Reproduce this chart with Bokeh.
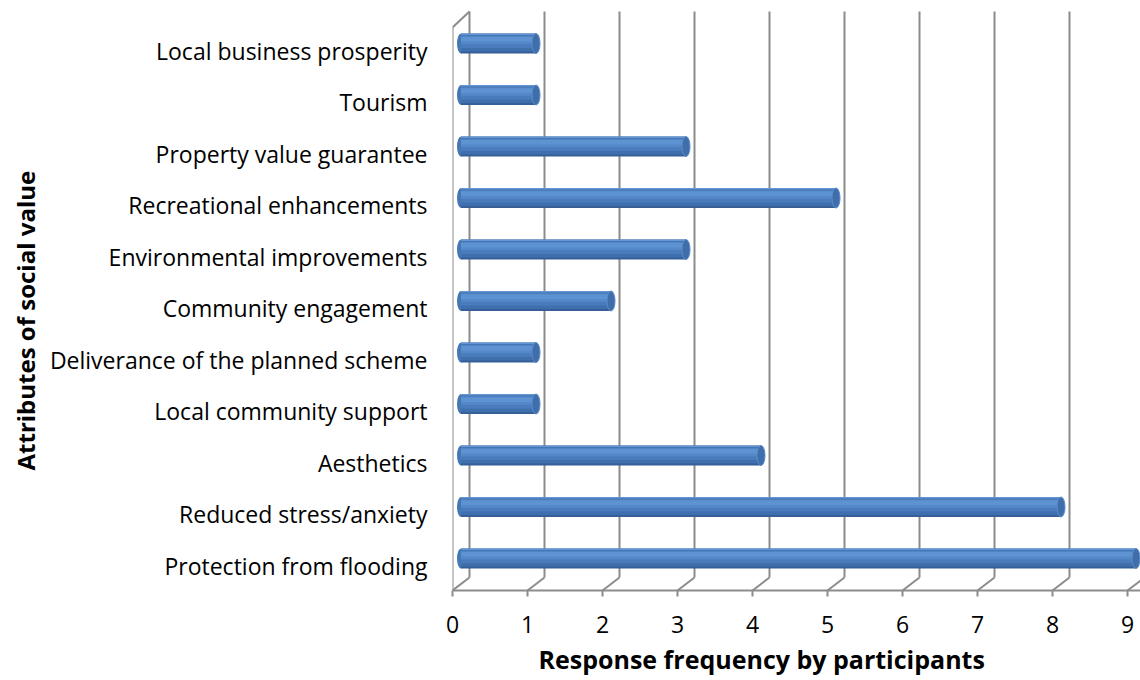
from bokeh.plotting import figure
from bokeh.models import Range1d, FixedTicker, Title
from bokeh.embed import file_html
from bokeh.resources import INLINE

# ---- data (top to bottom as shown) ----
categories = [
    "Local business prosperity",
    "Tourism",
    "Property value guarantee",
    "Recreational enhancements",
    "Environmental improvements",
    "Community engagement",
    "Deliverance of the planned scheme",
    "Local community support",
    "Aesthetics",
    "Reduced stress/anxiety",
    "Protection from flooding",
]
values = [1, 1, 3, 5, 3, 2, 1, 1, 4, 8, 9]
x_ticks = [0, 1, 2, 3, 4, 5, 6, 7, 8, 9]
x_title = "Response frequency by participants"
y_title = "Attributes of social value"

# bottom-to-top order for numeric positions
cats_bt = categories[::-1]
vals_bt = values[::-1]
ypos = list(range(len(cats_bt)))

FONT = "Open Sans"
GRID = "#8c8c8c"

# geometry (pixel -> data scale); y=0 is the front-plane position of the lowest category
PX_X = 75.0
PX_Y = 51.5
Y0 = 565.0
DX_BACK = 17 / PX_X
Y_FLOOR_FRONT = (Y0 - 590) / PX_Y
Y_FLOOR_BACK = (Y0 - 577) / PX_Y
Y_TOP_FRONT = (Y0 - 27) / PX_Y
Y_TOP_BACK = (Y0 - 11) / PX_Y
X_MAX = 688 / PX_X
Y_MIN = Y_FLOOR_FRONT
Y_MAX = (Y0 - 5) / PX_Y
BAR_DX = 8.5 / PX_X   # half depth shift of bars
BAR_DY = 7 / PX_Y

p = figure(width=1140, height=680, output_backend="svg", toolbar_location=None,
           x_range=Range1d(0, X_MAX), y_range=Range1d(Y_MIN, Y_MAX),
           min_border_left=452, min_border_right=0, min_border_top=5,
           min_border_bottom=90)
p.outline_line_color = None
p.xgrid.visible = False
p.ygrid.visible = False
p.background_fill_color = "white"
p.border_fill_color = "white"

# ---- 3D walls / gridlines ----
for k in x_ticks:
    p.line([k + DX_BACK, k + DX_BACK], [Y_FLOOR_BACK, Y_TOP_BACK], line_color=GRID, line_width=2)
    p.line([k, k + DX_BACK], [Y_FLOOR_FRONT, Y_FLOOR_BACK], line_color=GRID, line_width=2)
p.line([0, 0], [Y_FLOOR_FRONT, Y_TOP_FRONT], line_color=GRID, line_width=2)
p.line([0, DX_BACK], [Y_TOP_FRONT, Y_TOP_BACK], line_color=GRID, line_width=2)

# ---- cylinder bars ----
H = 20 / PX_Y
CAP = 8 / PX_X
bar_y = [y + BAR_DY for y in ypos]
lefts = [BAR_DX for _ in vals_bt]
rights = [BAR_DX + v for v in vals_bt]

bands = [
    (0.00, 1.00, "#355f96"),
    (0.10, 0.94, "#3f6fad"),
    (0.28, 0.90, "#4a7cbc"),
    (0.46, 0.86, "#5488c8"),
    (0.60, 0.82, "#5e93d2"),
]
p.ellipse(x=lefts, y=bar_y, width=CAP, height=H, fill_color="#4677b5", line_color=None)
for b0, b1, col in bands:
    bot = [y - H / 2 + b0 * H for y in bar_y]
    top = [y - H / 2 + b1 * H for y in bar_y]
    p.quad(left=lefts, right=rights, bottom=bot, top=top, fill_color=col, line_color=None)
p.quad(left=lefts, right=rights, bottom=[y + H / 2 - 0.07 * H for y in bar_y],
       top=[y + H / 2 for y in bar_y], fill_color="#6596d4", line_color=None)
p.ellipse(x=rights, y=bar_y, width=CAP, height=H, fill_color="#3f6eab",
          line_color="#5a8ccb", line_width=1)

# ---- axes ----
xa = p.xaxis[0]
xa.ticker = FixedTicker(ticks=x_ticks)
xa.axis_line_color = GRID
xa.axis_line_width = 2
xa.major_tick_line_color = GRID
xa.major_tick_line_width = 2
xa.major_tick_out = 6
xa.major_tick_in = 0
xa.minor_tick_line_color = None
xa.major_label_text_font = FONT
xa.major_label_text_font_size = "23px"
xa.major_label_text_color = "#000000"
xa.major_label_standoff = 19

ya = p.yaxis[0]
ya.ticker = FixedTicker(ticks=ypos)
ya.major_label_overrides = {i: c for i, c in zip(ypos, cats_bt)}
ya.axis_line_color = None
ya.major_tick_line_color = None
ya.minor_tick_line_color = None
ya.major_tick_out = 0
ya.major_tick_in = 0
ya.major_label_standoff = 25
ya.major_label_text_font = FONT
ya.major_label_text_font_size = "23px"
ya.major_label_text_color = "#000000"

# ---- axis titles ----
p.add_layout(Title(text=x_title, align="left", offset=86, standoff=8,
                   text_font=FONT, text_font_size="25px", text_font_style="bold",
                   text_color="#000000"), "below")
p.add_layout(Title(text=y_title, align="left", offset=120, standoff=10,
                   text_font=FONT, text_font_size="24px", text_font_style="bold",
                   text_color="#000000"), "left")

open("out.html", "w").write(file_html(p, INLINE))
